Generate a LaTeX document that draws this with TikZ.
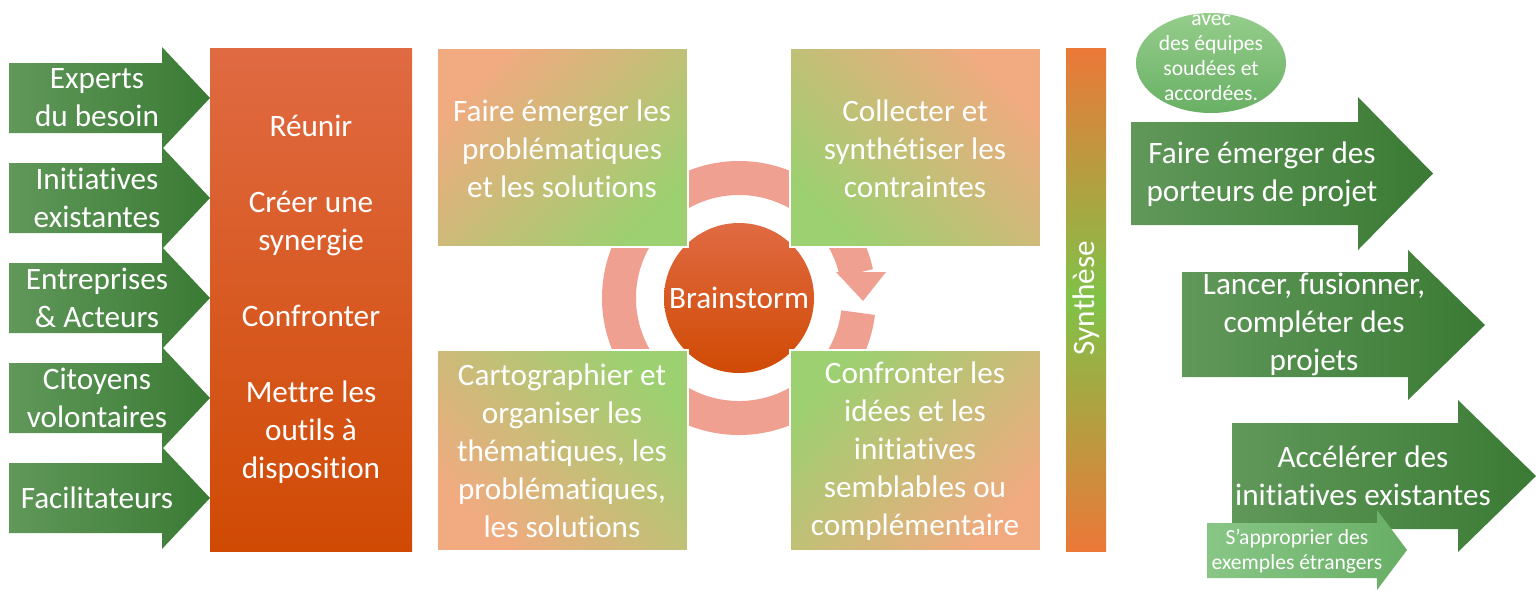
\documentclass[tikz,border=0pt]{standalone}
\usepackage{fontspec}
\setmainfont{Carlito}[Ligatures=NoCommon]
\usetikzlibrary{calc,shapes.geometric}
\definecolor{gL}{RGB}{96,152,90}
\definecolor{gR}{RGB}{58,122,52}
\definecolor{sgL}{RGB}{136,198,134}
\definecolor{sgR}{RGB}{104,174,102}
\definecolor{oTop}{RGB}{224,106,66}
\definecolor{oBot}{RGB}{208,74,4}
\definecolor{bO}{RGB}{242,170,128}
\definecolor{bG}{RGB}{156,208,112}
\definecolor{ringc}{RGB}{240,160,145}
\definecolor{synO}{RGB}{236,120,56}
\definecolor{synG}{RGB}{128,194,72}
\definecolor{elT}{RGB}{150,205,140}
\definecolor{elB}{RGB}{104,176,100}
\begin{document}
\begin{tikzpicture}[x=0.5pt,y=-0.5pt,
  txt/.style={text=white, align=center, font=\fontsize{15.6}{19}\selectfont, inner sep=0pt},
  smalltxt/.style={text=white, align=center, font=\fontsize{10.8}{12.5}\selectfont, inner sep=0pt},
  garrow/.style={left color=gL, right color=gR},
  sgarrow/.style={left color=sgL, right color=sgR},
  boxTL/.style={top color=bO, bottom color=bG, shading angle=45},
  boxTR/.style={top color=bO, bottom color=bG, shading angle=-45},
  boxBL/.style={top color=bG, bottom color=bO, shading angle=-45},
  boxBR/.style={top color=bG, bottom color=bO, shading angle=45}]
\useasboundingbox (0,0) rectangle (1536,591);
\fill[white] (0,0) rectangle (1536,591);

% left arrows
\foreach \yc in {98,198,298,398,498}{
  \path[garrow] (9,{\yc-35}) -- (162,{\yc-35}) -- (162,{\yc-51}) -- (210,\yc) -- (162,{\yc+51}) -- (162,{\yc+35}) -- (9,{\yc+35}) -- cycle;
}
\node[txt] (l1) at (97,98) {Experts\\du besoin};
\node[txt] (l2) at (97,198) {Initiatives\\existantes};
\node[txt] (l3) at (97,298) {Entreprises\\\& Acteurs};
\node[txt] (l4) at (97,398) {Citoyens\\volontaires};
\node[txt] (l5) at (97,498) {Facilitateurs};

% orange box
\path[top color=oTop, bottom color=oBot] (210,48) rectangle (412,551);
\node[txt] (reunir) at (311,299) {Réunir\\[19pt]Créer une\\synergie\\[19pt]Confronter\\[19pt]Mettre les\\outils à\\disposition};

% ring
\coordinate (c) at (739,298);
\draw[ringc, line width=17pt] ($(c)+(7:120)$) arc[start angle=7, end angle=348, radius=120];
\fill[ringc] (836,272) -- (886,272) -- (863,301) -- cycle;

% brainstorm circle
\node[circle, minimum size=75pt, top color=oTop, bottom color=oBot, txt] (brain) at (c) {Brainstorm};

% middle boxes
\path[boxTL, draw=white, line width=1pt] (437,48) rectangle (688,247);
\path[boxTR, draw=white, line width=1pt] (790,48) rectangle (1041,247);
\path[boxBL, draw=white, line width=1pt] (437,350) rectangle (688,551);
\path[boxBR, draw=white, line width=1pt] (790,350) rectangle (1041,551);
\node[txt] (tl) at (562,148.5) {Faire émerger les\\problématiques\\et les solutions};
\node[txt] (tr) at (915,148.5) {Collecter et\\synthétiser les\\contraintes};
\node[txt] (bl) at (562,451) {Cartographier et\\organiser les\\thématiques, les\\problématiques,\\les solutions};
\node[txt] (br) at (915,451) {Confronter les\\idées et les\\initiatives\\semblables ou\\complémentaire};

% synthese bar
\path[top color=synO, bottom color=synO, middle color=synG] (1066,48) rectangle (1106,551);
\node[txt, rotate=90] (syn) at (1086,298) {Synthèse};

% ellipse
\node[ellipse, minimum width=75pt, minimum height=50pt, inner sep=0pt, top color=elT, bottom color=elB] (ell) at (1211,63) {};
\node[smalltxt] (ellt) at (1211,57.5) {avec\\des équipes\\soudées et\\accordées.};

% right arrows
\path[garrow] (1131,122) -- (1358,122) -- (1358,97) -- (1433,173.5) -- (1358,250) -- (1358,225) -- (1131,225) -- cycle;
\node[txt] (r1) at (1262,174) {Faire émerger des\\porteurs de projet};
\path[garrow] (1182,272) -- (1408,272) -- (1408,250) -- (1485,325) -- (1408,400) -- (1408,377) -- (1182,377) -- cycle;
\node[txt] (r2) at (1314,324) {Lancer, fusionner,\\compléter des\\projets};
\path[garrow] (1232,423) -- (1458,423) -- (1458,400) -- (1536,476) -- (1458,552) -- (1458,529) -- (1232,529) -- cycle;
\node[txt] (r3) at (1363,476) {Accélérer des\\initiatives existantes};
\path[sgarrow] (1207,523) -- (1377,523) -- (1377,510) -- (1407,550) -- (1377,590) -- (1377,578) -- (1207,578) -- cycle;
\node[smalltxt] (r4) at (1297,551) {S’approprier des\\exemples étrangers};
\end{tikzpicture}
\end{document}
